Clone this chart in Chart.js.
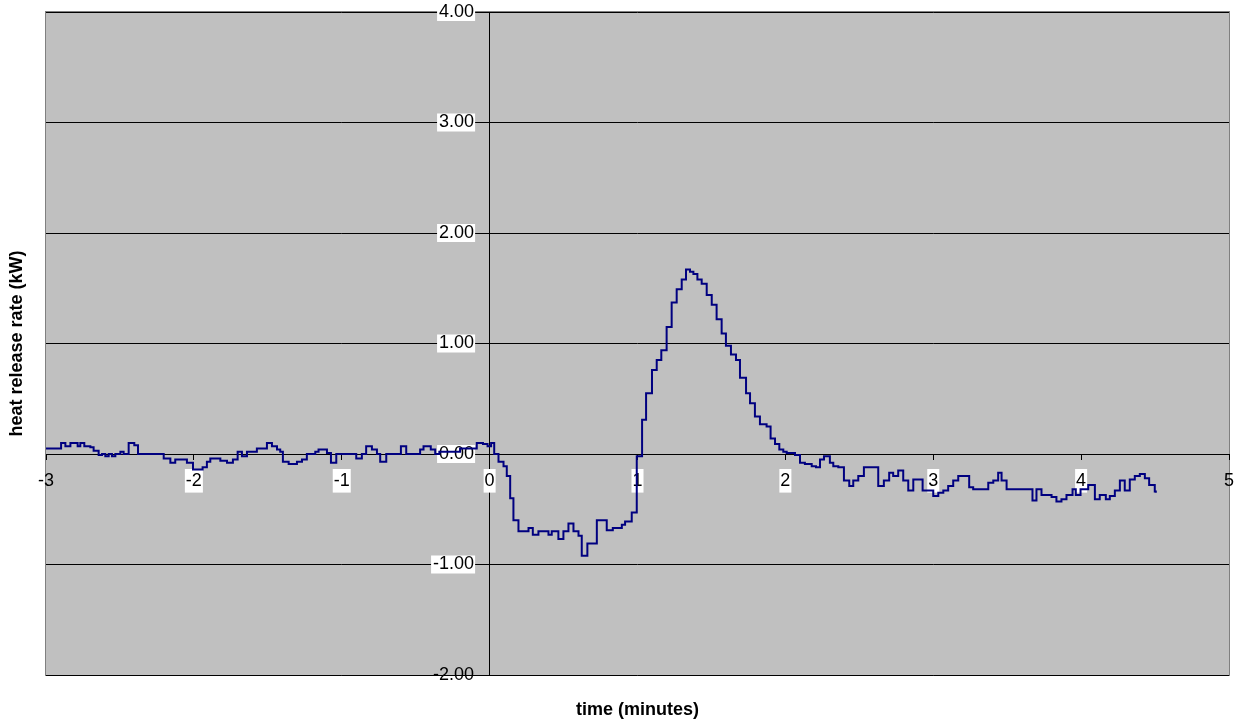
<!DOCTYPE html>
<html>
<head>
<meta charset="utf-8">
<title>heat release rate</title>
<script src="https://cdn.jsdelivr.net/npm/chart.js@4/dist/chart.umd.min.js"></script>
<style>
  html, body { margin: 0; padding: 0; background: #ffffff; }
  canvas { display: block; }
</style>
</head>
<body>
<canvas id="hrrChart" width="1240" height="724"></canvas>
<script>
// time (minutes) where the reading steps to a new level, and that level (kW)
const timeMin = [
  -3.000, -2.898, -2.869, -2.835, -2.786, -2.768, -2.741, -2.700, -2.678, -2.644,
  -2.621, -2.599, -2.576, -2.554, -2.531, -2.497, -2.475, -2.441, -2.403, -2.378,
  -2.204, -2.159, -2.126, -2.047, -2.006, -1.941, -1.912, -1.889, -1.821, -1.776,
  -1.736, -1.704, -1.675, -1.641, -1.574, -1.506, -1.472, -1.438, -1.416, -1.398,
  -1.359, -1.303, -1.269, -1.236, -1.179, -1.157, -1.100, -1.073, -1.037, -0.902,
  -0.864, -0.835, -0.796, -0.762, -0.740, -0.699, -0.600, -0.564, -0.470, -0.447,
  -0.398, -0.368, -0.340, -0.200, -0.087, -0.045, -0.014, 0.010, 0.031, 0.060,
  0.094, 0.116, 0.139, 0.161, 0.195, 0.263, 0.292, 0.330, 0.398, 0.420,
  0.465, 0.499, 0.533, 0.567, 0.601, 0.623, 0.661, 0.725, 0.792, 0.833,
  0.894, 0.916, 0.961, 0.995, 1.031, 1.058, 1.098, 1.130, 1.161, 1.197,
  1.231, 1.265, 1.299, 1.328, 1.355, 1.378, 1.405, 1.434, 1.468, 1.502,
  1.535, 1.569, 1.598, 1.632, 1.666, 1.693, 1.734, 1.761, 1.794, 1.828,
  1.873, 1.900, 1.930, 1.959, 1.986, 2.009, 2.065, 2.099, 2.132, 2.178,
  2.207, 2.234, 2.261, 2.301, 2.324, 2.358, 2.396, 2.432, 2.459, 2.493,
  2.531, 2.628, 2.666, 2.702, 2.729, 2.763, 2.797, 2.831, 2.865, 2.928,
  3.000, 3.034, 3.068, 3.101, 3.135, 3.169, 3.243, 3.270, 3.372, 3.406,
  3.439, 3.462, 3.496, 3.671, 3.698, 3.732, 3.800, 3.833, 3.867, 3.901,
  3.942, 3.964, 3.996, 4.048, 4.093, 4.126, 4.167, 4.194, 4.228, 4.262,
  4.295, 4.329, 4.363, 4.397, 4.431, 4.460, 4.498, 4.505
];
const heatReleaseKW = [
  0.05, 0.10, 0.07, 0.10, 0.07, 0.10, 0.07, 0.06, 0.03, -0.01,
  0.00, -0.02, 0.00, -0.02, 0.00, 0.02, 0.00, 0.10, 0.08, 0.00,
  -0.04, -0.08, -0.05, -0.08, -0.14, -0.12, -0.07, -0.04, -0.06, -0.08,
  -0.05, 0.02, -0.02, 0.02, 0.05, 0.10, 0.07, 0.04, 0.02, -0.07,
  -0.09, -0.07, -0.05, 0.00, 0.02, 0.04, 0.01, -0.08, 0.00, -0.04,
  0.00, 0.07, 0.04, 0.00, -0.07, 0.00, 0.07, 0.00, 0.04, 0.07,
  0.04, 0.00, 0.02, 0.05, 0.10, 0.09, 0.07, 0.10, 0.00, -0.07,
  -0.11, -0.20, -0.40, -0.60, -0.70, -0.67, -0.73, -0.70, -0.73, -0.70,
  -0.77, -0.70, -0.63, -0.70, -0.74, -0.92, -0.81, -0.60, -0.69, -0.67,
  -0.64, -0.61, -0.53, -0.02, 0.31, 0.55, 0.76, 0.85, 0.94, 1.15,
  1.37, 1.49, 1.58, 1.67, 1.65, 1.63, 1.58, 1.54, 1.44, 1.35,
  1.22, 1.09, 0.98, 0.90, 0.85, 0.69, 0.55, 0.46, 0.34, 0.27,
  0.25, 0.14, 0.09, 0.04, 0.02, 0.01, -0.01, -0.08, -0.09, -0.11,
  -0.12, -0.05, -0.02, -0.08, -0.11, -0.12, -0.24, -0.29, -0.24, -0.20,
  -0.12, -0.29, -0.24, -0.17, -0.20, -0.15, -0.24, -0.33, -0.23, -0.33,
  -0.38, -0.35, -0.33, -0.29, -0.24, -0.20, -0.30, -0.32, -0.26, -0.24,
  -0.17, -0.24, -0.32, -0.42, -0.32, -0.37, -0.39, -0.43, -0.41, -0.37,
  -0.32, -0.37, -0.32, -0.28, -0.41, -0.37, -0.41, -0.38, -0.33, -0.24,
  -0.33, -0.23, -0.20, -0.18, -0.22, -0.28, -0.34, -0.35
];
const xMin = -3, xMax = 5;
const yMin = -2, yMax = 4;

const fontFamily = '"Liberation Sans", Arial, sans-serif';

// grey plot area + thin border, like the spreadsheet chart
const plotBackground = {
  id: 'plotBackground',
  beforeDraw(chart) {
    const { ctx, chartArea: a } = chart;
    ctx.save();
    ctx.fillStyle = '#ffffff';
    ctx.fillRect(0, 0, chart.width, chart.height);
    ctx.fillStyle = '#c0c0c0';
    ctx.fillRect(a.left, a.top, a.right - a.left, a.bottom - a.top);
    ctx.strokeStyle = '#808080';
    ctx.lineWidth = 1;
    ctx.strokeRect(a.left - 0.5, a.top - 0.5, a.right - a.left + 1, a.bottom - a.top + 1);
    ctx.restore();
  }
};

// axis titles sit at the outer edges, not next to the crossing axes
const axisTitles = {
  id: 'axisTitles',
  afterDraw(chart) {
    const { ctx, chartArea: a } = chart;
    ctx.save();
    ctx.fillStyle = '#000000';
    ctx.font = 'bold 18px ' + fontFamily;
    ctx.textAlign = 'center';
    ctx.textBaseline = 'middle';
    ctx.fillText('time (minutes)', (a.left + a.right) / 2, 710);
    ctx.translate(17, (a.top + a.bottom) / 2);
    ctx.rotate(-Math.PI / 2);
    ctx.fillText('heat release rate (kW)', 0, 0);
    ctx.restore();
  }
};

// crossing axes shouldn't push the plot area in; layout.padding sets it
const noScalePadding = scale => {
  scale.paddingLeft = 0;
  scale.paddingRight = 0;
  scale.paddingTop = 0;
  scale.paddingBottom = 0;
};

const points = timeMin.map((t, i) => ({ x: t, y: heatReleaseKW[i] }));

const endTickBackdrop = (c, ends) => ends.includes(c.tick.value) ? 'rgba(0,0,0,0)' : '#ffffff';

new Chart(document.getElementById('hrrChart'), {
  type: 'scatter',
  data: {
    datasets: [{
      data: points,
      showLine: true,
      stepped: true,
      borderColor: '#000080',
      borderWidth: 2,
      pointRadius: 0,
      xAxisID: 'x',
      yAxisID: 'y'
    }]
  },
  options: {
    responsive: false,
    animation: false,
    devicePixelRatio: 1,
    layout: { padding: { left: 46, top: 12, right: 11, bottom: 49 } },
    plugins: { legend: { display: false }, tooltip: { enabled: false } },
    scales: {
      // axis line + tick marks, under the data
      x: {
        type: 'linear', min: xMin, max: xMax, position: { y: 0 },
        afterFit: noScalePadding,
        ticks: { stepSize: 1, display: false },
        grid: { drawOnChartArea: false, drawTicks: true, tickLength: 5, color: '#000000' },
        border: { display: true, color: '#000000', width: 1 }
      },
      y: {
        type: 'linear', min: yMin, max: yMax, position: { x: 0 },
        afterFit: noScalePadding,
        ticks: { stepSize: 1, display: false },
        grid: { color: '#000000', lineWidth: 1, drawTicks: true, tickLength: 5 },
        border: { display: true, color: '#000000', width: 1 }
      },
      // tick labels with white boxes, over the data
      x2: {
        type: 'linear', min: xMin, max: xMax, position: { y: 0 }, z: 1,
        afterFit: noScalePadding,
        grid: { display: false, drawTicks: false },
        border: { display: false },
        ticks: {
          stepSize: 1, autoSkip: false, maxRotation: 0, padding: 16,
          color: '#000000', font: { family: fontFamily, size: 18 },
          showLabelBackdrop: true,
          backdropColor: c => endTickBackdrop(c, [xMin, xMax]),
          backdropPadding: 1
        }
      },
      y2: {
        type: 'linear', min: yMin, max: yMax, position: { x: -0.105 }, z: 1,
        afterFit: noScalePadding,
        grid: { display: false, drawTicks: false },
        border: { display: false },
        ticks: {
          stepSize: 1, autoSkip: false,
          color: '#000000', font: { family: fontFamily, size: 18, lineHeight: 1 },
          callback: v => v.toFixed(2),
          showLabelBackdrop: true,
          backdropColor: c => endTickBackdrop(c, [yMin]),
          backdropPadding: { top: 0, bottom: 0, left: 2, right: 1 }
        }
      }
    }
  },
  plugins: [plotBackground, axisTitles]
});
</script>
</body>
</html>
